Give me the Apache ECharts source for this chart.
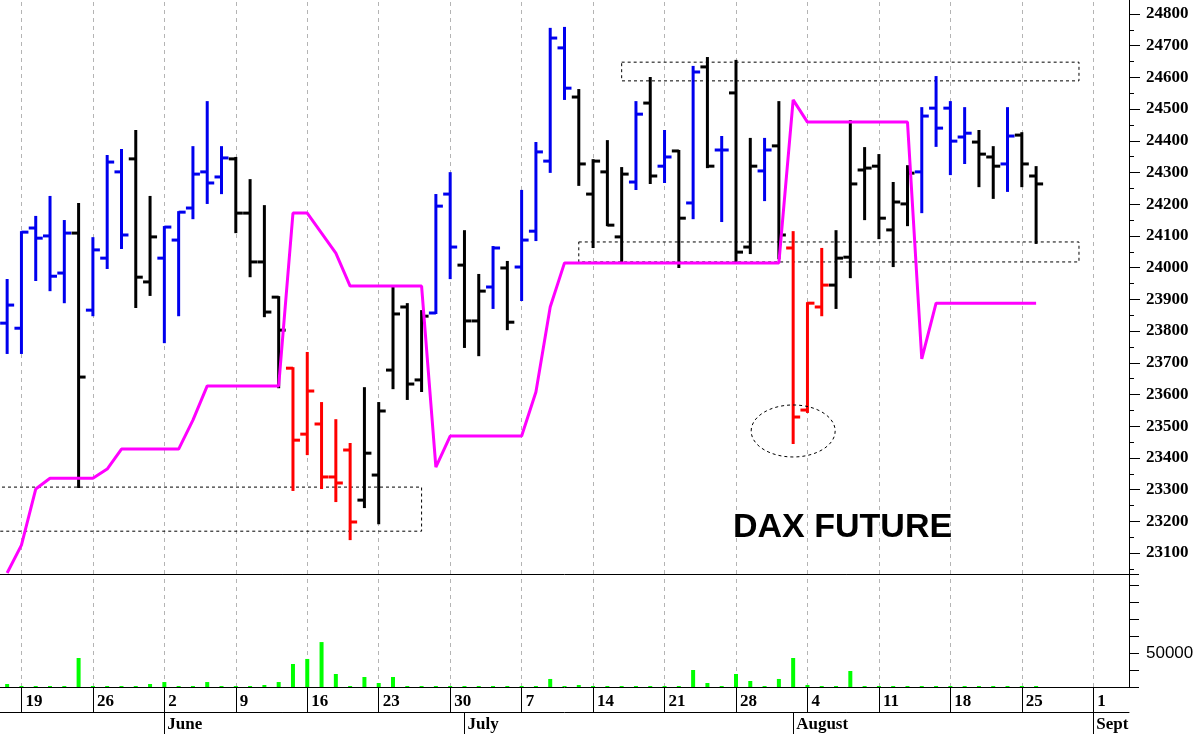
<!DOCTYPE html>
<html><head><meta charset="utf-8">
<script src="https://cdn.jsdelivr.net/npm/echarts@6/dist/echarts.min.js"></script>
<style>html,body{margin:0;padding:0;background:#fff}#c{width:1200px;height:734px}</style>
</head><body><div id="c"></div>
<script>
// ---- axis categories (trading days, MM-DD, 2025) ----
const categories = [
 '05-16','05-19','05-20','05-21','05-22','05-23','05-26','05-27','05-28','05-29','05-30',
 '06-02','06-03','06-04','06-05','06-06','06-09','06-10','06-11','06-12','06-13','06-16','06-17','06-18','06-19','06-20','06-23','06-24','06-25','06-26','06-27','06-30',
 '07-01','07-02','07-03','07-04','07-07','07-08','07-09','07-10','07-11','07-14','07-15','07-16','07-17','07-18','07-21','07-22','07-23','07-24','07-25','07-28','07-29','07-30','07-31',
 '08-01','08-04','08-05','08-06','08-07','08-08','08-11','08-12','08-13','08-14','08-15','08-18','08-19','08-20','08-21','08-22','08-25','08-26','08-27','08-28','08-29',
 '09-01','09-02','09-03'
];
const weekTicks = ['05-19','05-26','06-02','06-09','06-16','06-23','06-30','07-07','07-14','07-21','07-28','08-04','08-11','08-18','08-25','09-01'];
const monthTicks = ['06-02','07-01','08-01','09-01'];
const monthNames = ['June','July','August','Sept'];
const priceTicks = [23100,23200,23300,23400,23500,23600,23700,23800,23900,24000,24100,24200,24300,24400,24500,24600,24700,24800];
const priceMinorTicks = [23050,23150,23250,23350,23450,23550,23650,23750,23850,23950,24050,24150,24250,24350,24450,24550,24650,24750];

// ---- OHLC data ----
const openV = [23825,23809,24125,24100,23983,24109,23866,24030,24302,24343,
 23955,24030,24087,24188,24302,24286,24343,24172,24018,23907,
 23683,23475,23507,23340,23425,23267,23346,23677,23876,23646,
 23857,24232,24008,23832,23939,23999,24002,24115,24336,24693,
 24538,24232,24302,24097,24270,24519,24320,24368,24204,24633,
 24371,24551,24065,24305,24384,24062,23551,23876,23945,24033,
 24308,24320,24119,24201,24302,24503,24503,24412,24396,24349,
 24327,24418,24289];
const highV = [23961,24112,24160,24223,24147,24201,24093,24352,24371,24431,
 24223,24128,24175,24380,24522,24380,24346,24276,24194,23907,
 23683,23731,23573,23519,23444,23620,23573,23939,23885,23863,
 24229,24298,24115,23977,24065,24018,24242,24393,24753,24756,
 24560,24339,24399,24314,24522,24598,24431,24368,24633,24661,
 24412,24652,24406,24406,24522,24112,23888,24059,24115,24462,
 24377,24355,24267,24320,24503,24601,24522,24503,24431,24380,
 24503,24424,24317];
const lowV = [23731,23731,23961,23929,23891,23308,23850,23999,24062,23876,
 23914,23765,23850,24156,24204,24235,24112,23973,23847,23623,
 23299,23412,23305,23264,23144,23245,23194,23620,23586,23611,
 23857,23967,23750,23724,23873,23806,23898,24087,24302,24532,
 24261,24065,24134,24018,24248,24267,24270,24002,24156,24317,
 24147,24015,24046,24213,24030,23447,23545,23850,23873,23970,
 24153,24093,24005,24134,24175,24384,24295,24330,24257,24220,
 24242,24257,24078];
const closeV = [23882,24112,24093,23973,24109,23655,24056,24333,24103,23970,
 24097,24128,24175,24295,24267,24346,24172,24018,23860,23803,
 23456,23611,23340,23321,23198,23415,23548,23854,23633,23847,
 24194,24065,23832,23926,24062,23828,24087,24365,24724,24566,
 24327,24336,24134,24295,24484,24289,24349,24156,24617,24320,
 24371,24049,24320,24371,24103,23529,23888,23945,24030,24264,
 24314,24156,24207,24298,24478,24440,24399,24424,24358,24320,
 24415,24327,24264];
// 1 = up signal (blue), 0 = neutral (black), -1 = down signal (red)
const signal = [1,1,1,1,1,0,1,1,1,0,
 0,1,1,1,1,1,0,0,0,0,
 -1,-1,-1,-1,-1,0,0,0,0,0,
 1,1,0,0,1,0,1,1,1,1,
 0,0,0,0,1,0,1,0,1,0,
 1,0,0,1,0,-1,-1,-1,0,0,
 0,0,0,0,1,1,1,1,0,0,
 1,0,0];
const stopLine = [23037,23125,23302,23336,23336,23336,23336,23365,23428,23428,
 23428,23428,23428,23519,23627,23627,23627,23627,23627,23627,
 24172,24172,24109,24046,23942,23942,23942,23942,23942,23942,
 23371,23469,23469,23469,23469,23469,23469,23608,23876,24015,
 24015,24015,24015,24015,24015,24015,24015,24015,24015,24015,
 24015,24015,24015,24015,24015,24529,24459,24459,24459,24459,
 24459,24459,24459,24459,23712,23888,23888,23888,23888,23888,
 23888,23888,23888];
const volume = [4400,1500,1500,1500,1500,42600,1500,1500,1500,1500,
 4400,7300,1500,1500,7300,1500,1500,1500,2900,7300,
 33800,41200,66000,19100,1500,14700,5900,14700,1500,1500,
 1500,1500,1500,1500,1500,1500,1500,1500,11800,1500,
 2900,1500,1500,1500,1500,1500,1500,1500,25000,5900,
 1500,19100,8800,1500,11800,42600,2900,1500,1500,23500,
 1500,1500,1500,1500,1500,1500,1500,1500,1500,1500,
 1500,1500,1500];

// ---- annotations (data coordinates) ----
const upperZone = {from:'07-16', to:'08-29', low:24589, high:24648};
const midZone = {from:'07-11', to:'08-29', low:24018, high:24081};
const lowZone = {to:'06-26', low:23169, high:23308};
const circled = {day:'08-01', price:23485};

const colorOf = {'1':'#0000ee','0':'#000000','-1':'#ff0000'};
const serif = 'Liberation Serif';

const ohlcData = openV.map((o,i)=>[i,o,highV[i],lowV[i],closeV[i],signal[i]]);

function renderOHLC(params, api){
  const i = api.value(0);
  const x = api.coord([i, api.value(1)])[0];
  const yo = api.coord([i, api.value(1)])[1];
  const yh = api.coord([i, api.value(2)])[1];
  const yl = api.coord([i, api.value(3)])[1];
  const yc = api.coord([i, api.value(4)])[1];
  const st = {stroke: colorOf[String(api.value(5))], lineWidth: 3};
  return {type:'group', children:[
    {type:'line', shape:{x1:x,y1:yh-1,x2:x,y2:yl+1}, style:st},
    {type:'line', shape:{x1:x-7,y1:yo,x2:x,y2:yo}, style:st},
    {type:'line', shape:{x1:x,y1:yc,x2:x+7,y2:yc}, style:st}
  ]};
}
function renderEllipse(params, api){
  const p = api.coord([api.value(0), api.value(1)]);
  return {type:'ellipse', shape:{cx:p[0], cy:p[1], rx:42, ry:26},
    style:{fill:null, stroke:'#000', lineWidth:1, lineDash:[3,3]}};
}

const gridLineMark = {
  silent:true, symbol:['none','none'], label:{show:false}, animation:false, z:0,
  lineStyle:{color:'#b4b4b4', type:[4,4], width:1},
  data: weekTicks.map(d=>({xAxis:d}))
};

const chart = echarts.init(document.getElementById('c'));
chart.setOption({
  animation:false,
  backgroundColor:'#fff',
  grid:[
    {left:0, right:71, top:0, height:574, outerBoundsMode:'none'},
    {left:0, right:71, top:574, height:113, outerBoundsMode:'none'}
  ],
  xAxis:[
    {gridIndex:0, type:'category', data:categories, boundaryGap:true,
     axisLine:{lineStyle:{color:'#000', width:1}}, axisTick:{show:false}, axisLabel:{show:false}, splitLine:{show:false}},
    {gridIndex:1, type:'category', data:categories, boundaryGap:true,
     axisLine:{lineStyle:{color:'#000', width:1}},
     axisTick:{show:true, alignWithLabel:true, length:25, lineStyle:{color:'#000', width:1}, interval:(i,v)=>weekTicks.includes(v)},
     axisLabel:{interval:(i,v)=>weekTicks.includes(v), formatter:v=>String(parseInt(v.slice(3),10)),
       align:'left', padding:[0,0,0,4], margin:6, color:'#000', fontFamily:serif, fontWeight:'bold', fontSize:17},
     splitLine:{show:false}},
    {gridIndex:1, type:'category', data:categories, boundaryGap:true, position:'bottom', offset:25,
     axisLine:{lineStyle:{color:'#000', width:1}},
     axisTick:{show:true, alignWithLabel:true, length:22, lineStyle:{color:'#000', width:1}, interval:(i,v)=>monthTicks.includes(v)},
     axisLabel:{interval:(i,v)=>monthTicks.includes(v), formatter:v=>monthNames[monthTicks.indexOf(v)] || '',
       align:'left', padding:[0,0,0,3], margin:4, color:'#000', fontFamily:serif, fontWeight:'bold', fontSize:17},
     splitLine:{show:false}}
  ],
  yAxis:[
    {gridIndex:0, type:'value', position:'right', min:23034, max:24844,
     axisLine:{show:true, lineStyle:{color:'#000'}},
     axisTick:{show:true, length:11, lineStyle:{color:'#000'}, customValues:priceTicks},
     axisLabel:{customValues:priceTicks, formatter:v=>String(v), margin:17, color:'#000', fontFamily:serif, fontWeight:'bold', fontSize:17},
     splitLine:{show:false}},
    {gridIndex:0, type:'value', position:'right', min:23034, max:24844,
     axisLine:{show:false},
     axisTick:{show:true, length:5, lineStyle:{color:'#000'}, customValues:priceMinorTicks},
     axisLabel:{show:false}, splitLine:{show:false}},
    {gridIndex:1, type:'value', position:'right', min:0, max:166000, interval:25000,
     axisLine:{show:true, lineStyle:{color:'#000'}},
     axisTick:{show:true, length:10, lineStyle:{color:'#000'}},
     axisLabel:{formatter:v=>v===50000?'50000':'', margin:17, color:'#000', fontFamily:'Liberation Sans', fontSize:17},
     splitLine:{show:false}}
  ],
  series:[
    {type:'line', xAxisIndex:0, yAxisIndex:0, data:[], z:1, silent:true,
     markLine:gridLineMark,
     markArea:{silent:true, z:1, itemStyle:{color:'rgba(0,0,0,0)', borderColor:'#000', borderWidth:1, borderType:[3,3]},
       data:[
         [{xAxis:upperZone.from, yAxis:upperZone.high},{xAxis:upperZone.to, yAxis:upperZone.low}],
         [{xAxis:midZone.from, yAxis:midZone.high},{xAxis:midZone.to, yAxis:midZone.low}],
         [{x:-4, yAxis:lowZone.high},{xAxis:lowZone.to, yAxis:lowZone.low}]
       ]}},
    {type:'line', xAxisIndex:1, yAxisIndex:2, data:[], z:1, silent:true, markLine:gridLineMark},
    {type:'bar', xAxisIndex:1, yAxisIndex:2, data:volume, barWidth:4, itemStyle:{color:'#00ff00'}, z:2, silent:true},
    {type:'custom', xAxisIndex:0, yAxisIndex:0, data:ohlcData, renderItem:renderOHLC, encode:{x:0, y:[2,3]}, z:3, silent:true},
    {type:'line', xAxisIndex:0, yAxisIndex:0, data:stopLine, symbol:'none', lineStyle:{color:'#ff00ff', width:3}, z:4, silent:true},
    {type:'custom', xAxisIndex:0, yAxisIndex:0, data:[[categories.indexOf(circled.day), circled.price]], renderItem:renderEllipse, z:5, silent:true}
  ],
  graphic:[
    {type:'text', left:733, top:511, z:10,
     style:{text:'DAX FUTURE', fill:'#000', font:'bold 34px "Liberation Sans"'}}
  ]
});
</script>
</body></html>
